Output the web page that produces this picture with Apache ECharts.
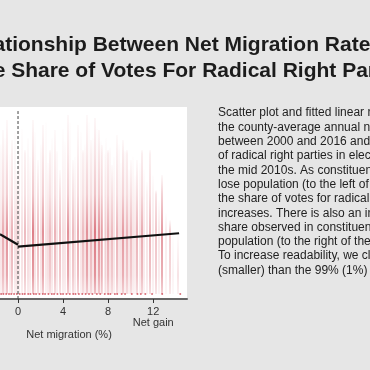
<!DOCTYPE html>
<html>
<head>
<meta charset="utf-8">
<script src="https://cdn.jsdelivr.net/npm/echarts@6/dist/echarts.min.js"></script>
<style>
html,body{margin:0;padding:0;background:#e6e6e6;}
#chart{width:370px;height:370px;}
</style>
</head>
<body>
<div id="chart"></div>
<script>
// ---- Data ----
const titleLines = ["Relationship Between Net Migration Rates and", "the Share of Votes For Radical Right Parties"];
const noteText = [
  "Scatter plot and fitted linear regression of",
  "the county-average annual net migration rate",
  "between 2000 and 2016 and the share of votes",
  "of radical right parties in elections held in",
  "the mid 2010s. As constituencies increasingly",
  "lose population (to the left of the dashed line),",
  "the share of votes for radical right parties",
  "increases. There is also an increase in the vote",
  "share observed in constituencies that gain",
  "population (to the right of the dashed line).",
  "To increase readability, we clipped values larger",
  "(smaller) than the 99% (1%) percentile."
];
const xTicks = [0, 4, 8, 12];
const xAxisName = "Net migration (%)";
const gainLabel = "Net gain";

// dense streaks of points: net migration (%), top vote share (%), intensity
const streakX   = [-1.33, -0.98, -0.53, 0.62, 1.33, 1.78, 2.22, 2.84, 3.29, 3.73, 4.44, 4.89, 5.33, 5.78, 6.13, 6.49, 6.84, 7.2, 7.47, 8.0, 8.36, 8.8, 9.33, 9.69, 10.04, 10.58, 11.02, 11.73, 12.27, 12.8, 13.51, 14.22];
const streakTop = [52.6, 55.8, 49.4, 46.2, 55.8, 43.0, 54.2, 46.2, 52.6, 39.8, 57.4, 43.0, 54.2, 46.2, 57.4, 49.4, 56.5, 52.6, 47.8, 46.2, 41.4, 51.0, 49.4, 46.2, 43.0, 43.0, 46.2, 46.2, 33.3, 38.2, 23.7, 18.9];
const streakInt = [0.5, 0.65, 0.45, 0.4, 0.75, 0.4, 0.65, 0.4, 0.45, 0.4, 0.65, 0.4, 0.5, 0.4, 0.65, 0.45, 0.8, 0.65, 0.45, 0.5, 0.4, 0.45, 0.6, 0.45, 0.4, 0.45, 0.5, 0.45, 0.35, 0.6, 0.3, 0.2];

// sparser streaks between them
const hazeX   = [-1.5, -1.15, -0.75, -0.3, -0.1, 0.12, 0.35, 0.85, 1.05, 1.55, 2.0, 2.45, 2.65, 3.05, 3.5, 3.95, 4.2, 4.65, 5.1, 5.55, 5.95, 6.3, 6.65, 7.0, 7.35, 7.7, 7.85, 8.2, 8.55, 9.0, 9.15, 9.5, 9.85, 10.25, 10.4, 10.8, 11.2, 11.45, 11.95, 12.5, 13.1, 13.8];
const hazeTop = [48, 50, 45, 52, 40, 47, 53, 50, 44, 52, 48, 55, 42, 50, 46, 53, 49, 55, 44, 52, 48, 55, 50, 53, 49, 45, 50, 47, 44, 48, 42, 46, 40, 44, 38, 42, 40, 36, 38, 30, 26, 20];
const hazeInt = [0.3, 0.35, 0.3, 0.35, 0.4, 0.3, 0.35, 0.4, 0.3, 0.35, 0.35, 0.3, 0.4, 0.35, 0.3, 0.35, 0.3, 0.3, 0.35, 0.3, 0.35, 0.3, 0.35, 0.3, 0.35, 0.3, 0.3, 0.35, 0.3, 0.3, 0.35, 0.3, 0.3, 0.3, 0.25, 0.3, 0.25, 0.3, 0.25, 0.25, 0.2, 0.15];

// constituencies with zero vote share
const zeroX = [-1.5, -1.3, -1.05, -0.8, -0.6, -0.35, -0.1, 0.15, 0.4, 0.6, 0.9, 1.1, 1.4, 1.6, 1.9, 2.2, 2.4, 2.7, 3.0, 3.2, 3.5, 3.8, 4.0, 4.3, 4.6, 4.9, 5.1, 5.4, 5.7, 6.0, 6.3, 6.6, 7.0, 7.3, 7.7, 8.0, 8.2, 8.6, 8.8, 9.2, 9.5, 10.1, 10.6, 10.9, 11.3, 11.9, 12.8, 14.4];

// fitted regression segments
const fitLeftX  = [-1.6, 0];
const fitLeftY  = [19.2, 15.8];
const fitRightX = [0, 14.3];
const fitRightY = [15.2, 19.5];

// ---- Chart ----
const chart = echarts.init(document.getElementById('chart'), null, {renderer: 'canvas'});
const red = '200,45,60';
// density profile of a column along the vote-share axis: [vote share, relative density]
const profileV = [0, 6, 20, 32, 45];
const profileD = [0.45, 0.8, 1, 0.45, 0.2];

function rgba(a) { return 'rgba(' + red + ',' + Math.max(0, Math.min(1, a)).toFixed(3) + ')'; }

function streakRenderer(gain, width) {
  return (params, api) => {
    const x = api.value(0), top = api.value(1), a = api.value(2) * gain;
    const p0 = api.coord([x, 0]);
    const p1 = api.coord([x, top]);
    const px = Math.round(p0[0]);
    const stops = [];
    profileV.forEach((v, i) => {
      if (v < top) stops.push({offset: v / top, color: rgba(a * profileD[i])});
    });
    stops.push({offset: 1, color: rgba(a * 0.06)});
    return {
      type: 'line',
      shape: {x1: px, y1: p0[1], x2: px, y2: p1[1]},
      style: {
        stroke: new echarts.graphic.LinearGradient(px, p0[1], px, p1[1], stops, true),
        lineWidth: width
      }
    };
  };
}

chart.setOption({
  backgroundColor: '#e6e6e6',
  animation: false,
  grid: {left: 0, right: 183, top: 107, bottom: 71, show: true, backgroundColor: '#ffffff', borderWidth: 0},
  xAxis: {
    type: 'value', min: -1.6, max: 15,
    splitLine: {show: false},
    axisLine: {show: true, onZero: false, lineStyle: {color: '#666', width: 2}},
    axisTick: {show: true, customValues: xTicks, length: 4, lineStyle: {color: '#333', width: 1}},
    axisLabel: {
      customValues: xTicks, margin: 7, color: '#333', fontSize: 11,
      fontFamily: 'Liberation Sans, Arial, sans-serif', lineHeight: 11.5,
      formatter: v => v === 12 ? '12\n' + gainLabel : String(v)
    }
  },
  yAxis: {type: 'value', min: -1.6, max: 60, show: false, splitLine: {show: false}},
  series: [
    {
      type: 'custom', data: hazeX.map((x, i) => [x, hazeTop[i], hazeInt[i]]),
      clip: true, renderItem: streakRenderer(0.45, 2), z: 1
    },
    {
      type: 'custom', data: streakX.map((x, i) => [x, streakTop[i], streakInt[i]]),
      clip: true, renderItem: streakRenderer(0.8, 2), z: 1
    },
    {
      type: 'scatter', data: zeroX.map(x => [x, 0]), symbolSize: 2,
      itemStyle: {color: rgba(0.85)}, z: 2
    },
    {
      type: 'line', data: [[0, -1.6], [0, 58.7]], symbol: 'none',
      lineStyle: {color: '#444', width: 1, type: [3, 2]}, z: 3
    },
    {
      type: 'line', data: fitLeftX.map((x, i) => [x, fitLeftY[i]]), symbol: 'none',
      lineStyle: {color: '#111', width: 2.2}, z: 4
    },
    {
      type: 'line', data: fitRightX.map((x, i) => [x, fitRightY[i]]), symbol: 'none',
      lineStyle: {color: '#111', width: 2.2}, z: 4
    }
  ],
  graphic: [
    {
      type: 'text', x: 193, y: 32, z: 10,
      style: {
        text: titleLines.join('\n'), textAlign: 'center', textVerticalAlign: 'top',
        font: 'bold 21px "Liberation Sans", Arial, sans-serif', fill: '#1c1c1c', lineHeight: 26
      }
    },
    {
      type: 'text', x: 218, y: 106, z: 10,
      style: {
        text: noteText.join('\n'), textAlign: 'left', textVerticalAlign: 'top',
        font: '12px "Liberation Sans", Arial, sans-serif', fill: '#222', lineHeight: 14.3
      }
    },
    {
      type: 'text', x: 69, y: 329, z: 10,
      style: {
        text: xAxisName, textAlign: 'center', textVerticalAlign: 'top',
        font: '11px "Liberation Sans", Arial, sans-serif', fill: '#333'
      }
    }
  ]
});
</script>
</body>
</html>
